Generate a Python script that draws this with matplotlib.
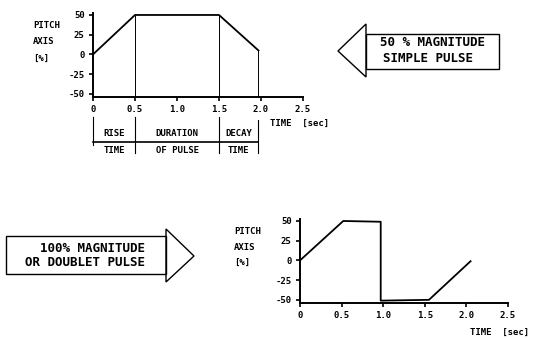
import matplotlib
matplotlib.use("Agg")
from matplotlib import pyplot as plt
from matplotlib.patches import Polygon, Rectangle
from matplotlib.transforms import blended_transform_factory

# simple pulse (50 % magnitude)
pulse_t = [0, 0.5, 1.5, 1.97]
pulse_v = [0, 50, 50, 5]

# doublet pulse (100 % magnitude)
doublet_t = [0, 0.52, 0.97, 0.97, 1.55, 2.05]
doublet_v = [0, 50, 49, -51, -50, -1]

phase_edges = [0, 0.5, 1.5, 1.97]
phase_top = ["RISE", "DURATION", "DECAY"]
phase_bottom = ["TIME", "OF PULSE", "TIME"]

x_ticks = [0, 0.5, 1.0, 1.5, 2.0, 2.5]
x_ticklabels = ["0", "0.5", "1.0", "1.5", "2.0", "2.5"]
y_ticks = [50, 25, 0, -25, -50]
y_labels = ["PITCH", "AXIS", "[%]"]

W, H = 535, 338
FONT = "DejaVu Sans Mono"


def fx(x):
    return x / W


def fy(y):
    return 1 - y / H


def style_axes(ax):
    ax.set_xlim(0, 2.5)
    ax.set_ylim(-54, 52)
    for side in ("top", "right"):
        ax.spines[side].set_visible(False)
    for side in ("left", "bottom"):
        ax.spines[side].set_linewidth(1.4)
    ax.set_xticks(x_ticks)
    ax.set_xticklabels(x_ticklabels)
    ax.set_yticks(y_ticks)
    ax.set_yticklabels([str(v) for v in y_ticks])
    ax.tick_params(direction="out", length=3, width=1.2, labelsize=6.5, pad=3)
    for lab in ax.get_xticklabels() + ax.get_yticklabels():
        lab.set_family(FONT)
        lab.set_fontweight("bold")
    ax.patch.set_alpha(0)


def axis_label(fig, x, ys):
    for text, y in zip(y_labels, ys):
        fig.text(fx(x), fy(y), text, ha="left", va="center", fontsize=6.5,
                 family=FONT, fontweight="bold")


fig = plt.figure(figsize=(W / 100, H / 100), dpi=100)

# top chart: simple pulse with phase annotation
ax1 = fig.add_axes([fx(93), fy(97), (303 - 93) / W, (97 - 13.4) / H])
style_axes(ax1)
ax1.plot(pulse_t, pulse_v, color="black", lw=1.3)
ax1.vlines(phase_edges[1:], -54, pulse_v[1:], color="black", lw=0.7)

trans = blended_transform_factory(ax1.transData, fig.transFigure)
for i, t in enumerate(phase_edges):
    top = 117 if i < len(phase_edges) - 1 else 120
    bottom = 145 if i == 0 else 153
    ax1.plot([t, t], [fy(top), fy(bottom)], color="black", lw=0.8,
             transform=trans, clip_on=False)
ax1.plot([phase_edges[0], phase_edges[-1]], [fy(142), fy(142)], color="black",
         lw=1.2, transform=trans, clip_on=False)
for i in range(len(phase_top)):
    mid = (phase_edges[i] + phase_edges[i + 1]) / 2
    ax1.text(mid, fy(133), phase_top[i], transform=trans, ha="center",
             va="center", fontsize=6.5, family=FONT, fontweight="bold")
    ax1.text(mid, fy(150), phase_bottom[i], transform=trans, ha="center",
             va="center", fontsize=6.5, family=FONT, fontweight="bold")

axis_label(fig, 33, [26, 42, 58])
fig.text(fx(270), fy(123), "TIME  [sec]", ha="left", va="center",
         fontsize=6.5, family=FONT, fontweight="bold")

# bottom chart: doublet pulse
ax2 = fig.add_axes([fx(300), fy(303), (508 - 300) / W, (303 - 219.4) / H])
style_axes(ax2)
ax2.plot(doublet_t, doublet_v, color="black", lw=1.3)

axis_label(fig, 234, [232, 247, 262])
fig.text(fx(470), fy(332), "TIME  [sec]", ha="left", va="center",
         fontsize=6.5, family=FONT, fontweight="bold")

# arrow callouts
def callout(box, tri, lines):
    x0, y0, x1, y1 = box
    fig.patches.append(Rectangle((fx(x0), fy(y1)), fx(x1) - fx(x0),
                                 fy(y0) - fy(y1), transform=fig.transFigure,
                                 fill=False, edgecolor="black", lw=1.0))
    fig.patches.append(Polygon([(fx(x), fy(y)) for x, y in tri], closed=True,
                               transform=fig.transFigure, fill=False,
                               edgecolor="black", lw=1.0))
    for text, cx, cy in lines:
        fig.text(fx(cx), fy(cy), text, ha="center", va="center", fontsize=9,
                 family=FONT, fontweight="bold")


callout((366, 34, 499, 69), [(366, 24), (338, 51), (366, 77)],
        [("50 % MAGNITUDE", 432, 43), ("SIMPLE PULSE", 428, 59)])
callout((6, 236, 166, 274), [(166, 229), (194, 256), (166, 282)],
        [("100% MAGNITUDE", 92, 248), ("OR DOUBLET PULSE", 85, 263)])

fig.savefig("out.png", dpi=100)
